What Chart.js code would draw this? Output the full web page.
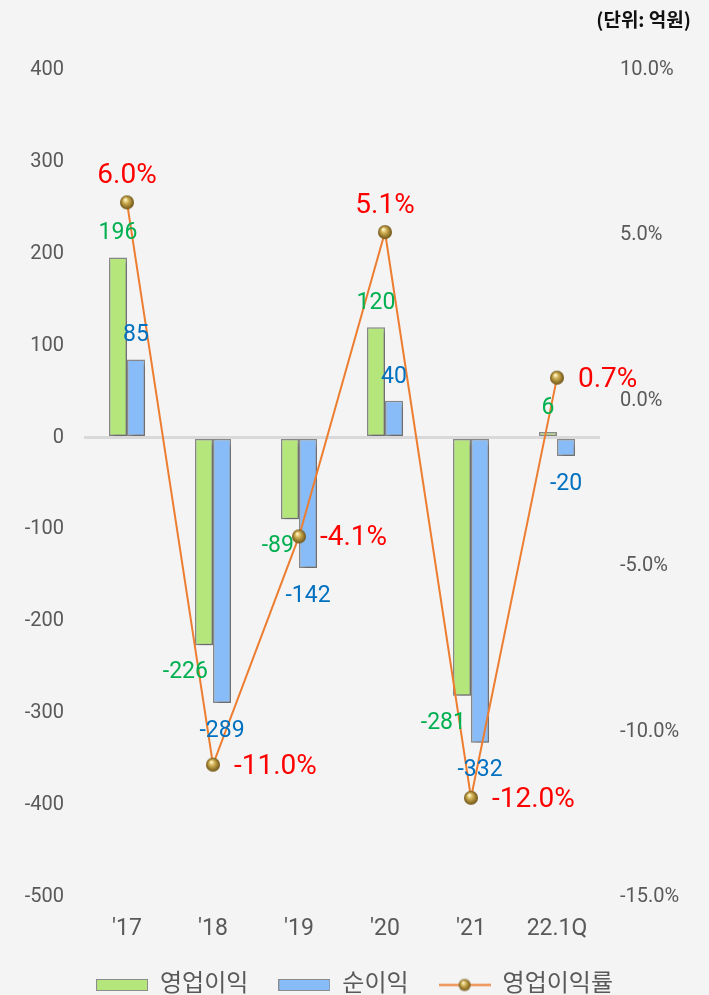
<!DOCTYPE html>
<html>
<head>
<meta charset="utf-8">
<script src="https://cdn.jsdelivr.net/npm/chart.js@4"></script>
<style>
	body { margin: 0; background: #f4f4f4; overflow: hidden; }
	#wrap { position: relative; width: 709px; height: 995px; background: #f4f4f4; overflow: hidden; }
	#unit { position: absolute; right: 18px; top: 5px; font: bold 19px "Noto Sans CJK KR", sans-serif; color: #111; }
	canvas { position: absolute; left: 0; top: 0; }
</style>
</head>
<body>
<div id="wrap">
	<canvas id="chart_resultado"></canvas>
	<div id="unit">(단위: 억원)</div>
</div>
<script>
// datos
let categorias = ["'17", "'18", "'19", "'20", "'21", "22.1Q"];
let operativo = [196, -226, -89, 120, -281, 6];      // 영업이익
let neto = [85, -289, -142, 40, -332, -20];          // 순이익
let margen = [6.0, -11.0, -4.1, 5.1, -12.0, 0.7];    // 영업이익률

const FONT = 'Roboto, "Noto Sans CJK KR", sans-serif';

function bola(r) {
	let c = document.createElement('canvas');
	c.width = c.height = r * 2 + 2;
	let g = c.getContext('2d');
	let grd = g.createRadialGradient(r * 0.75 + 1, r * 0.6 + 1, 0.5, r + 1, r + 1, r);
	grd.addColorStop(0, '#fff6cc');
	grd.addColorStop(0.35, '#d2b255');
	grd.addColorStop(1, '#6e5214');
	g.fillStyle = grd;
	g.beginPath();
	g.arc(r + 1, r + 1, r, 0, Math.PI * 2);
	g.fill();
	return c;
}

function cajaLeyenda(color) {
	let c = document.createElement('canvas');
	c.width = 52; c.height = 12;
	let g = c.getContext('2d');
	g.fillStyle = color;
	g.fillRect(1, 1, 50, 10);
	g.strokeStyle = '#8c8c8c';
	g.lineWidth = 1;
	g.strokeRect(0.5, 0.5, 51, 11);
	return c;
}

function lineaLeyenda() {
	let c = document.createElement('canvas');
	c.width = 52; c.height = 15;
	let g = c.getContext('2d');
	g.strokeStyle = '#ed7d31';
	g.lineWidth = 2;
	g.beginPath(); g.moveTo(0, 7.5); g.lineTo(52, 7.5); g.stroke();
	g.drawImage(bola(6), 26 - 7, 7.5 - 7);
	return c;
}

let punto = bola(7);

// sombra de barras
let sombra = {
	id: 'sombra',
	beforeDatasetDraw(chart, args) {
		if (args.meta.type !== 'bar') return;
		let ctx = chart.ctx;
		ctx.save();
		ctx.shadowColor = 'rgba(0,0,0,0.3)';
		ctx.shadowBlur = 5;
		ctx.shadowOffsetX = 2;
		ctx.shadowOffsetY = 3;
	},
	afterDatasetDraw(chart, args) {
		if (args.meta.type !== 'bar') return;
		chart.ctx.restore();
	}
};

// etiquetas de valores
let etiquetas = {
	id: 'etiquetas',
	afterDatasetsDraw(chart) {
		let ctx = chart.ctx;
		ctx.save();
		ctx.textBaseline = 'middle';

		ctx.font = '23px ' + FONT;
		[0, 1].forEach(i => {
			let meta = chart.getDatasetMeta(i);
			let vals = chart.data.datasets[i].data;
			ctx.fillStyle = i === 0 ? '#00b050' : '#0070c0';
			meta.data.forEach((bar, j) => {
				let v = vals[j];
				if (v >= 0) {
					ctx.textAlign = 'center';
					ctx.fillText(v, bar.x, bar.y - 24);
				} else if (i === 0) {
					ctx.textAlign = 'right';
					ctx.fillText(v, bar.x + 4, bar.y + 27);
				} else {
					ctx.textAlign = 'center';
					ctx.fillText(v, bar.x, bar.y + 28);
				}
			});
		});

		ctx.font = '28px ' + FONT;
		ctx.fillStyle = '#ff0000';
		let meta = chart.getDatasetMeta(2);
		meta.data.forEach((p, j) => {
			let v = margen[j];
			let txt = v.toFixed(1) + '%';
			if (v > 3) {
				ctx.textAlign = 'center';
				ctx.fillText(txt, p.x, p.y - 26);
			} else {
				ctx.textAlign = 'left';
				ctx.fillText(txt, p.x + 21, p.y + 2);
			}
		});
		ctx.restore();
	}
};

let ctx = document.getElementById('chart_resultado');
ctx.width = 709;
ctx.height = 1007;

let data = {
	labels: categorias,
	datasets: [
		{
			type: 'bar',
			label: '영업이익',
			data: operativo,
			backgroundColor: '#b5e67b',
			borderColor: '#8a8a8a',
			borderWidth: 1.5,
			borderSkipped: false,
			categoryPercentage: 0.42,
			barPercentage: 1,
			yAxisID: 'y',
			order: 1
		},
		{
			type: 'bar',
			label: '순이익',
			data: neto,
			backgroundColor: '#88bcf8',
			borderColor: '#8a8a8a',
			borderWidth: 1.5,
			borderSkipped: false,
			categoryPercentage: 0.42,
			barPercentage: 1,
			yAxisID: 'y',
			order: 1
		},
		{
			type: 'line',
			label: '영업이익률',
			data: margen,
			borderColor: '#ed7d31',
			borderWidth: 2,
			pointStyle: punto,
			tension: 0,
			yAxisID: 'y1',
			order: 0
		}
	]
};

let options = {
	responsive: false,
	animation: false,
	layout: { padding: { top: 70, left: 0, right: 0, bottom: 0 } },
	plugins: {
		tooltip: { enabled: false },
		legend: {
			position: 'bottom',
			labels: {
				usePointStyle: true,
				pointStyleWidth: 52,
				boxHeight: 15,
				padding: 30,
				color: '#595959',
				font: { size: 24, family: FONT },
				generateLabels: () => [
					{ text: '영업이익', pointStyle: cajaLeyenda('#b5e67b'), fontColor: '#595959', lineWidth: 0, datasetIndex: 0 },
					{ text: '순이익', pointStyle: cajaLeyenda('#88bcf8'), fontColor: '#595959', lineWidth: 0, datasetIndex: 1 },
					{ text: '영업이익률', pointStyle: lineaLeyenda(), fontColor: '#595959', lineWidth: 0, datasetIndex: 2 }
				]
			}
		}
	},
	scales: {
		x: {
			grid: { display: false, drawTicks: false },
			border: { display: false },
			ticks: { color: '#595959', font: { size: 23, family: FONT }, padding: 18 },
			afterFit: s => { s.height = 46; }
		},
		y: {
			position: 'left',
			min: -500,
			max: 400,
			border: { display: false },
			grid: {
				drawTicks: false,
				lineWidth: 3,
				color: c => c.tick && c.tick.value === 0 ? '#d9d9d9' : 'rgba(0,0,0,0)'
			},
			ticks: { stepSize: 100, color: '#595959', font: { size: 20, family: FONT }, padding: 20 },
			afterFit: s => { s.width = 84; }
		},
		y1: {
			position: 'right',
			min: -15,
			max: 10,
			border: { display: false },
			grid: { display: false, drawTicks: false },
			ticks: {
				stepSize: 5,
				color: '#595959',
				font: { size: 20, family: FONT },
				padding: 20,
				callback: v => v.toFixed(1) + '%'
			},
			afterFit: s => { s.width = 109; }
		}
	}
};

new Chart(ctx, {
	type: 'bar',
	data: data,
	options: options,
	plugins: [sombra, etiquetas]
});
</script>
</body>
</html>
